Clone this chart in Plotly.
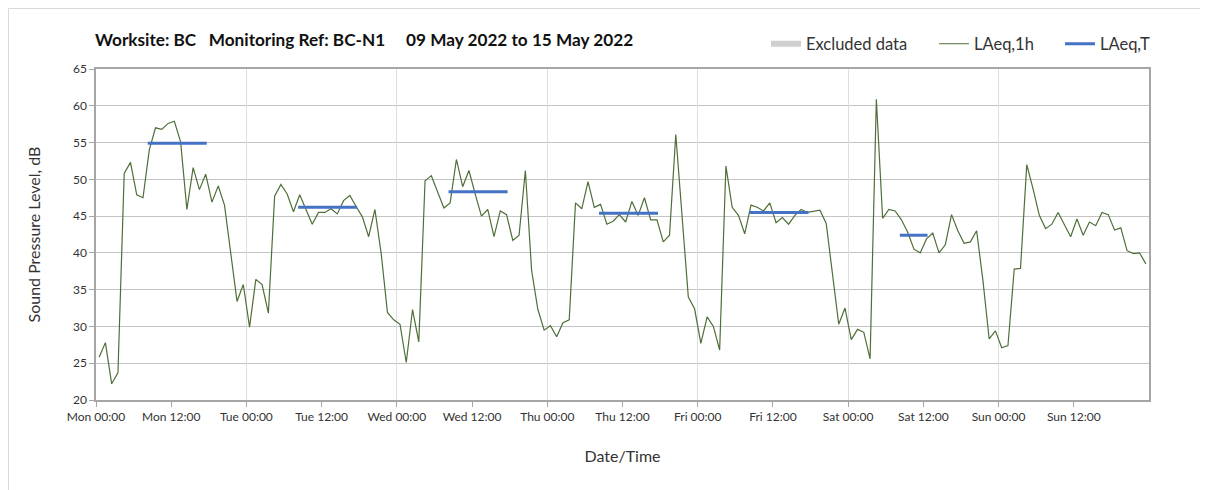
import plotly.graph_objects as go
import pandas as pd

# ---- data ----
start_time = "2022-05-09 00:30"
laeq_1h = [
    25.8, 27.8, 22.2, 23.7, 50.8, 52.3, 47.9, 47.5, 54.0, 57.0, 56.8, 57.6, 57.9, 55.1, 45.9, 51.6,
    48.6, 50.7, 46.9, 49.1, 46.5, 40.3, 33.4, 35.7, 29.9, 36.4,
    35.7, 31.8, 47.7, 49.3, 48.0, 45.6, 47.9, 45.9, 43.9, 45.5, 45.5, 46.0, 45.3, 47.1, 47.8, 46.3,
    44.9, 42.2, 45.9, 39.9, 31.9, 30.9, 30.3, 25.1, 32.3, 27.9, 49.8, 50.5,
    48.3, 46.1, 46.8, 52.7, 49.0, 51.2, 48.0, 45.0, 45.9, 42.2, 45.7, 45.2, 41.7, 42.4, 51.2, 37.6,
    32.3, 29.5, 30.1, 28.6, 30.5, 30.9, 46.8, 46.0, 49.7, 46.2, 46.6, 43.9, 44.3, 45.2,
    44.2, 47.0, 45.1, 47.5, 44.5, 44.5, 41.5, 42.4, 56.1, 45.4, 34.0, 32.4, 27.7, 31.3, 30.0, 26.8,
    51.8, 46.2, 45.1, 42.6, 46.5, 46.2, 45.7, 46.8, 44.1, 44.8, 43.9, 45.1,
    45.9, 45.5, 45.7, 45.8, 44.0, 37.2, 30.3, 32.5, 28.2, 29.6, 29.2, 25.6, 60.9, 44.7, 45.9, 45.7,
    44.5, 42.8, 40.5, 40.0, 41.9, 42.7, 40.0, 41.1, 45.2, 43.0,
    41.3, 41.5, 43.0, 36.3, 28.3, 29.4, 27.1, 27.4, 37.8, 37.9, 52.0, 48.7, 45.1, 43.3, 43.9, 45.5,
    43.9, 42.2, 44.6, 42.4, 44.2, 43.7, 45.5, 45.2, 43.1, 43.4, 40.3, 39.9, 40.0, 38.5,
]
laeq_t_start = ["2022-05-09 08:15", "2022-05-10 08:15", "2022-05-11 08:15",
                "2022-05-12 08:15", "2022-05-13 08:15", "2022-05-14 08:15"]
laeq_t_end = ["2022-05-09 17:40", "2022-05-10 17:40", "2022-05-11 17:40",
              "2022-05-12 17:40", "2022-05-13 17:40", "2022-05-14 12:40"]
laeq_t = [54.9, 46.2, 48.3, 45.4, 45.5, 42.4]
tick_times = pd.date_range("2022-05-09 00:00", periods=14, freq="12h")
tick_labels = [t.strftime("%a %H:%M") for t in tick_times]

times = pd.date_range(start_time, periods=len(laeq_1h), freq="h")

FONT = "Lato"
W, H = 1208, 490
OFF = 8  # page body margin


def px_x(p):
    return (p - OFF) / W


def px_y(p):
    return 1 - (p - OFF) / H


fig = go.Figure()

fig.add_trace(go.Scatter(x=[None], y=[None], name="Excluded data", mode="none",
                         fill="toself", fillcolor="#d0d0d0", showlegend=True, legend="legend"))

fig.add_trace(go.Scatter(x=times, y=laeq_1h, mode="lines", name="LAeq,1h",
                         line=dict(color="#4f6f3a", width=1.2), legend="legend2"))

bx, by = [], []
for s, e, v in zip(laeq_t_start, laeq_t_end, laeq_t):
    bx += [s, e, None]
    by += [v, v, None]
fig.add_trace(go.Scatter(x=bx, y=by, mode="lines", name="LAeq,T",
                         line=dict(color="#4472c4", width=3), connectgaps=False,
                         legend="legend3"))

# overlay axis only for daily vertical gridlines
fig.add_trace(go.Scatter(x=[times[0]], y=[None], xaxis="x2", showlegend=False,
                         hoverinfo="skip"))

xrange = ["2022-05-09 00:00", "2022-05-16 00:00"]
leg_common = dict(orientation="h", xref="container", yref="container", xanchor="left",
                  yanchor="middle", font=dict(family=FONT, size=16.5, color="#333333"),
                  itemwidth=30, bgcolor="rgba(0,0,0,0)")
fig.update_layout(
    width=W, height=H,
    margin=dict(l=96 - OFF, r=W + OFF - 1149, t=69 - OFF, b=H + OFF - 400, autoexpand=False),
    paper_bgcolor="white", plot_bgcolor="white",
    font=dict(family=FONT, color="#333333"),
    title=dict(text="<b>Worksite: BC&nbsp;&nbsp;&nbsp;Monitoring Ref: BC-N1&nbsp;&nbsp;&nbsp;&nbsp;&nbsp;09 May 2022 to 15 May 2022</b>",
               x=px_x(95), xanchor="left", y=px_y(40), yanchor="middle",
               font=dict(family=FONT, size=17.2, color="#111111")),
    legend=dict(x=px_x(766), y=px_y(44), **leg_common),
    legend2=dict(x=px_x(934), y=px_y(44), **leg_common),
    legend3=dict(x=px_x(1060), y=px_y(44), **leg_common),
    xaxis=dict(type="date", range=xrange, automargin=False,
               tickmode="array", tickvals=list(tick_times), ticktext=tick_labels,
               showgrid=False, ticks="outside", ticklen=5, tickcolor="#a6a6a6",
               showline=True, linecolor="#a6a6a6", linewidth=1.5, mirror=True,
               tickfont=dict(size=12, color="#333333"),
               title=dict(text="Date/Time", font=dict(size=16, color="#333333"), standoff=28),
               zeroline=False),
    xaxis2=dict(type="date", range=xrange, overlaying="x", dtick=24 * 3600 * 1000,
                tick0="2022-05-09 00:00", showgrid=True, gridcolor="#dedede", gridwidth=1,
                showticklabels=False, ticks="", showline=False, zeroline=False),
    yaxis=dict(range=[20, 65], dtick=5, showgrid=True, gridcolor="#c4c4c4", gridwidth=1,
               ticks="outside", ticklen=5, tickcolor="#a6a6a6", automargin=False,
               showline=True, linecolor="#a6a6a6", linewidth=1.5, mirror=True,
               tickfont=dict(size=12, color="#333333"),
               title=dict(text="Sound Pressure Level, dB", font=dict(size=16, color="#333333"),
                          standoff=28),
               zeroline=False),
    shapes=[dict(type="rect", xref="paper", yref="paper",
                 x0=(OFF + 0.5 - 96) / 1053, x1=1.2, y0=-0.4, y1=(400 - OFF - 0.5) / 331,
                 line=dict(color="#d9d9d9", width=1), fillcolor="rgba(0,0,0,0)", layer="below")],
)

fig.write_html("out.html")
